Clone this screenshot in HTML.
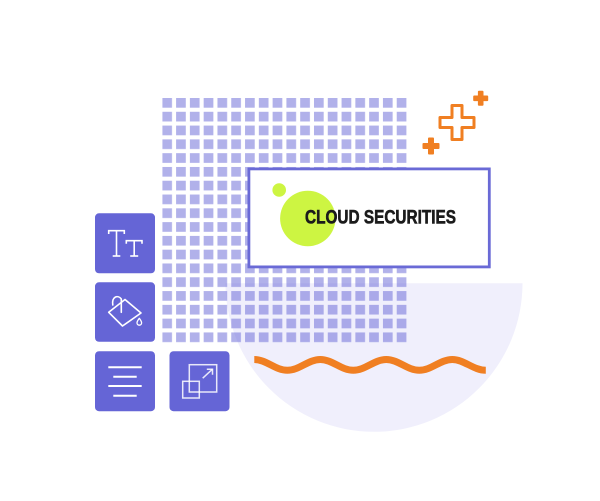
<!DOCTYPE html>
<html>
<head>
<meta charset="utf-8">
<style>
  html, body { margin: 0; padding: 0; background: #ffffff; }
  body { width: 600px; height: 501px; overflow: hidden; }
  svg { display: block; }
</style>
</head>
<body>
<svg width="600" height="501" viewBox="0 0 600 501" xmlns="http://www.w3.org/2000/svg">
  <defs>
    <pattern id="grid" x="162.3" y="98" width="13.79" height="13.79" patternUnits="userSpaceOnUse">
      <rect x="0" y="0" width="9.7" height="9.7" fill="rgb(100,100,214)" fill-opacity="0.5"/>
    </pattern>
  </defs>

  <!-- lavender half circle -->
  <path d="M225.5,283.3 A148.5,148.5 0 0 0 522.5,283.3 Z" fill="#f0effc"/>

  <!-- dotted grid -->
  <rect x="162.3" y="98" width="244.5" height="244.5" fill="url(#grid)"/>

  <!-- card -->
  <rect x="248.9" y="168.9" width="240.4" height="98" fill="#ffffff" stroke="#6a6ad6" stroke-width="2.8"/>
  <circle cx="307.8" cy="218.5" r="27.7" fill="#cdf542"/>
  <circle cx="279.2" cy="190" r="6.8" fill="#cdf542"/>
  <text x="305" y="223.3" font-family="'Liberation Sans', Arial, sans-serif" font-weight="bold" font-size="19" textLength="151" lengthAdjust="spacingAndGlyphs" fill="#1b1b1b" stroke="#1b1b1b" stroke-width="0.6">CLOUD SECURITIES</text>

  <!-- orange wave -->
  <path d="M254.3,359.5 C266.3,359.5 275.3,370.3 287.3,370.3 C299.3,370.3 308.3,359.5 320.3,359.5 C332.3,359.5 341.3,370.3 353.3,370.3 C365.3,370.3 374.3,359.5 386.3,359.5 C398.3,359.5 407.3,370.3 419.3,370.3 C431.3,370.3 440.3,359.5 452.3,359.5 C464.3,359.5 473.3,370.3 485.8,370.3" fill="none" stroke="#f07f22" stroke-width="7" stroke-linecap="butt"/>

  <!-- plus signs -->
  <g transform="translate(457,122.5)">
    <path d="M-5,-17 L5,-17 L5,-5 L17,-5 L17,5 L5,5 L5,17 L-5,17 L-5,5 L-17,5 L-17,-5 L-5,-5 Z" fill="none" stroke="#f07f22" stroke-width="3" stroke-linejoin="round"/>
  </g>
  <g fill="#f07f22">
    <rect x="473.2" y="95.5" width="15" height="5.6" rx="1"/>
    <rect x="477.9" y="90.8" width="5.6" height="15" rx="1"/>
    <rect x="422.5" y="143" width="17" height="6" rx="1"/>
    <rect x="428" y="137.5" width="6" height="17" rx="1"/>
  </g>

  <!-- buttons -->
  <g fill="#6565d6">
    <rect x="95" y="213.3" width="60" height="60" rx="4"/>
    <rect x="95" y="282.3" width="60" height="59.5" rx="4"/>
    <rect x="95" y="351.2" width="60" height="60" rx="4"/>
    <rect x="169.5" y="351.2" width="60" height="60" rx="4"/>
  </g>

  <!-- Tt icon -->
  <g fill="none" stroke="#ffffff" stroke-width="1.6" stroke-linecap="butt">
    <path d="M108.7,234 L108.7,230.7 L124.3,230.7 L124.3,234"/>
    <path d="M116.5,230.7 L116.5,256"/>
    <path d="M112.7,256 L120.3,256"/>
    <path d="M126.3,243.8 L126.3,240.7 L142,240.7 L142,243.8"/>
    <path d="M134.2,240.7 L134.2,256"/>
    <path d="M130.2,256 L138.2,256"/>
  </g>

  <!-- bucket icon -->
  <g fill="none" stroke="#ffffff" stroke-width="1.6" stroke-linejoin="round" stroke-linecap="round">
    <path d="M108.7,312.3 L122.5,326 L141,313 L125,299.5 Z"/>
    <path d="M112.8,305 C111.5,296.5 118,294.5 121.3,299 L121.3,312.3"/>
    <path d="M139.3,318.3 Q141.6,321.4 141.6,322.9 A2.3,2.3 0 0 1 137,322.9 Q137,321.4 139.3,318.3 Z" stroke-width="1.3"/>
  </g>

  <!-- align icon -->
  <g stroke="#ffffff" stroke-width="2">
    <line x1="108.3" y1="367.3" x2="141.7" y2="367.3"/>
    <line x1="113.3" y1="376.7" x2="136.7" y2="376.7"/>
    <line x1="108.3" y1="386" x2="141.7" y2="386"/>
    <line x1="113.3" y1="395.7" x2="136.7" y2="395.7"/>
  </g>

  <!-- resize icon -->
  <g fill="none" stroke="#ffffff" stroke-opacity="0.85" stroke-width="1.5">
    <rect x="189.3" y="364.7" width="27.4" height="27.3"/>
    <rect x="182.7" y="381.3" width="16.6" height="16.7"/>
    <path d="M202.7,378.2 L212.3,369.3"/>
    <path d="M206.8,369.2 L212.5,369.2 L212.5,374.8" stroke-linejoin="miter"/>
  </g>
</svg>
</body>
</html>
